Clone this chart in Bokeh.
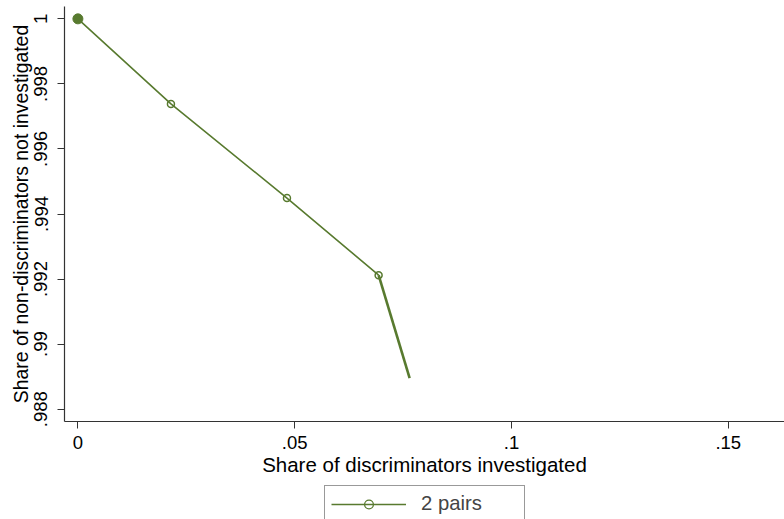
from bokeh.plotting import figure
from bokeh.layouts import column
from bokeh.models import FixedTicker, Legend, LegendItem, ColumnDataSource
from bokeh.embed import file_html
from bokeh.resources import INLINE

# ---- data ----
x_share_disc = [0.0, 0.02146, 0.04822, 0.06936, 0.07651]
y_share_nondisc = [1.0, 0.997385, 0.99449, 0.99212, 0.98895]
series_name = "2 pairs"

x_ticks = [0.0, 0.05, 0.1, 0.15]
x_tick_labels = ["0", ".05", ".1", ".15"]
y_ticks = [0.988, 0.99, 0.992, 0.994, 0.996, 0.998, 1.0]
y_tick_labels = [".988", ".99", ".992", ".994", ".996", ".998", "1"]

x_title = "Share of discriminators investigated"
y_title = "Share of non-discriminators not investigated"

# ---- styling ----
GREEN = "#587a2f"
FONT = "Liberation Sans"

p = figure(width=784, height=483, output_backend="svg", toolbar_location=None,
           x_range=(-0.00309, 0.16297), y_range=(0.98762, 1.00038),
           min_border_left=64, min_border_right=0, min_border_top=6,
           min_border_bottom=62)
p.outline_line_color = None
p.xgrid.visible = False
p.ygrid.visible = False
p.background_fill_color = "white"
p.border_fill_color = "white"

line_src = ColumnDataSource(dict(x=x_share_disc[:-1], y=y_share_nondisc[:-1]))
tail_src = ColumnDataSource(dict(x=x_share_disc[-2:], y=y_share_nondisc[-2:]))
mk_src = ColumnDataSource(dict(x=x_share_disc[1:-1], y=y_share_nondisc[1:-1]))
first_src = ColumnDataSource(dict(x=x_share_disc[:1], y=y_share_nondisc[:1]))

r_line = p.line("x", "y", source=line_src, line_color=GREEN, line_width=1.6)
r_tail = p.line("x", "y", source=tail_src, line_color=GREEN, line_width=2.6)
r_mk = p.scatter("x", "y", source=mk_src, marker="circle", size=7,
                 fill_color=None, line_color=GREEN, line_width=1.5)
r_first = p.scatter("x", "y", source=first_src, marker="circle", size=10,
                    fill_color=GREEN, line_color=GREEN)

# axes
for ax in (p.xaxis[0], p.yaxis[0]):
    ax.axis_line_color = "#333333"
    ax.axis_line_width = 1.2
    ax.major_tick_line_color = "#333333"
    ax.major_tick_out = 7
    ax.major_tick_in = 0
    ax.minor_tick_line_color = None
    ax.major_label_text_font = FONT
    ax.major_label_text_font_size = "18.5px"
    ax.major_label_text_color = "black"
    ax.axis_label_text_font = FONT
    ax.axis_label_text_font_style = "normal"
    ax.axis_label_text_color = "black"

p.xaxis.ticker = FixedTicker(ticks=x_ticks)
p.xaxis.major_label_overrides = dict(zip(x_ticks, x_tick_labels))
p.yaxis.ticker = FixedTicker(ticks=y_ticks)
p.yaxis.major_label_overrides = dict(zip(y_ticks, y_tick_labels))
p.yaxis.major_label_orientation = "vertical"
p.xaxis.axis_label = x_title
p.yaxis.axis_label = y_title
p.xaxis.axis_label_text_font_size = "20.5px"
p.yaxis.axis_label_text_font_size = "19.4px"
p.xaxis.major_label_standoff = 7
p.xaxis.axis_label_standoff = 1
p.yaxis.major_label_standoff = 10
p.yaxis.axis_label_standoff = 0

# ---- legend strip (separate canvas below the plot, frame aligned with plot) ----
leg_fig = figure(width=784, height=36, output_backend="svg", toolbar_location=None,
                 x_range=(0, 1), y_range=(0, 1),
                 min_border_left=64, min_border_right=0, min_border_top=0,
                 min_border_bottom=0)
leg_fig.axis.visible = False
leg_fig.grid.visible = False
leg_fig.outline_line_color = None
offscreen = ColumnDataSource(dict(x=[5.0, 6.0], y=[5.0, 5.0]))  # outside the strip's ranges
l_line = leg_fig.line("x", "y", source=offscreen, line_color=GREEN, line_width=1.6)
l_mk = leg_fig.scatter("x", "y", source=offscreen, marker="circle", size=5,
                       fill_color=None, line_color=GREEN, line_width=1.3)

legend = Legend(items=[LegendItem(label=series_name, renderers=[l_line, l_mk])],
                location=(260, -3), orientation="horizontal",
                label_text_font=FONT, label_text_font_size="20.3px",
                glyph_width=75, glyph_height=22, label_standoff=15,
                padding=6, margin=0, spacing=0, label_width=97,
                border_line_color="#333333", border_line_width=1.2,
                background_fill_color="white", background_fill_alpha=1.0)
leg_fig.add_layout(legend, "center")

layout = column(p, leg_fig, spacing=0)
open("out.html", "w").write(file_html(layout, INLINE))
